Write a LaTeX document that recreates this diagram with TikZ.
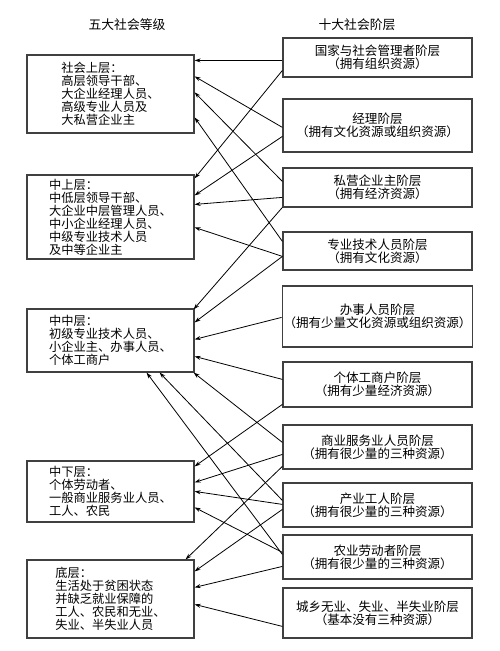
\documentclass[tikz,border=0pt]{standalone}
\usepackage{fontspec}
\setmainfont{Noto Sans CJK SC}
\usetikzlibrary{calc,arrows.meta}

\begin{document}
\begin{tikzpicture}[x=0.75pt,y=0.75pt,yscale=-1,xscale=1,
        lbox/.style={draw=black!75, line width=0.9pt, minimum width=125.25pt, inner sep=1pt, align=left, font=\fontsize{9.2}{9.8}\selectfont},
        rbox/.style={draw=black!75, line width=0.9pt, minimum width=141.75pt, inner sep=1pt, align=center, font=\fontsize{9.4}{9.6}\selectfont},
        arr/.style={line width=0.6pt, -{Stealth[length=4.5pt,width=3pt]}}]
        \useasboundingbox (0,0) rectangle (500,651);

        \node [font=\fontsize{9.6}{10}\selectfont] (t1) at (127,25) {五大社会等级};
        \node [font=\fontsize{9.6}{10}\selectfont] (t2) at (357,25) {十大社会阶层};

        \node [lbox, minimum height=58.5pt] (L1) at (110.5,94) {社会上层：\\高层领导干部、\\大企业经理人员、\\高级专业人员及\\大私营企业主};
        \node [lbox, minimum height=63pt] (L2) at (110.5,217) {中上层：\\中低层领导干部、\\大企业中层管理人员、\\中小企业经理人员、\\中级专业技术人员\\及中等企业主};
        \node [lbox, minimum height=47.25pt] (L3) at (110.5,340.5) {中中层：\\初级专业技术人员、\\小企业主、办事人员、\\个体工商户};
        \node [lbox, minimum height=45.75pt] (L4) at (110.5,491.5) {中下层：\\个体劳动者、\\一般商业服务业人员、\\工人、农民};
        \node [lbox, minimum height=58.5pt] (L5) at (110.5,599) {底层：\\生活处于贫困状态\\并缺乏就业保障的\\工人、农民和无业、\\失业、半失业人员};

        \node [rbox, minimum height=29.25pt] (R1) at (377.5,57.5) {国家与社会管理者阶层\\（拥有组织资源）};
        \node [rbox, minimum height=39.75pt] (R2) at (377.5,125.5) {经理阶层\\（拥有文化资源或组织资源）};
        \node [rbox, minimum height=29.25pt] (R3) at (377.5,187.5) {私营企业主阶层\\（拥有经济资源）};
        \node [rbox, minimum height=28.5pt] (R4) at (377.5,251) {专业技术人员阶层\\（拥有文化资源）};
        \node [rbox, minimum height=45.75pt] (R5) at (377.5,316.5) {办事人员阶层\\（拥有少量文化资源或组织资源）};
        \node [rbox, minimum height=33.75pt] (R6) at (377.5,384.5) {个体工商户阶层\\（拥有少量经济资源）};
        \node [rbox, minimum height=33pt] (R7) at (377.5,447) {商业服务业人员阶层\\（拥有很少量的三种资源）};
        \node [rbox, minimum height=33pt] (R8) at (377.5,505) {产业工人阶层\\（拥有很少量的三种资源）};
        \node [rbox, minimum height=33pt] (R9) at (377.5,557) {农业劳动者阶层\\（拥有很少量的三种资源）};
        \node [rbox, minimum height=37.5pt] (R10) at (377.5,613) {城乡无业、失业、半失业阶层\\（基本没有三种资源）};

        \draw [arr] ($(R1.north west)+(0,23)$) -- ($(L1.north east)+(0,6)$);
        \draw [arr] ($(R1.north west)+(0,33)$) -- ($(L2.north east)+(0,4)$);
        \draw [arr] ($(R2.north west)+(0,29)$) -- ($(L1.north east)+(0,22)$);
        \draw [arr] ($(R2.north west)+(0,38)$) -- ($(L2.north east)+(0,21)$);
        \draw [arr] ($(R3.north west)+(0,14)$) -- ($(L1.north east)+(0,38)$);
        \draw [arr] ($(R3.north west)+(0,30)$) -- ($(L2.north east)+(0,30)$);
        \draw [arr] ($(R3.north west)+(0,40)$) -- ($(L3.north east)+(-1,1)$);
        \draw [arr] ($(R4.north west)+(0,10)$) -- ($(L1.north east)+(0,63)$);
        \draw [arr] ($(R4.north west)+(0,25)$) -- ($(L2.north east)+(0,53)$);
        \draw [arr] ($(R4.north west)+(0,25)$) -- ($(L3.north east)+(0,14)$);
        \draw [arr] ($(R5.north west)+(0,32)$) -- ($(L3.north east)+(0,31)$);
        \draw [arr] ($(R6.north west)+(0,18)$) -- ($(L3.north east)+(0,48)$);
        \draw [arr] ($(R6.north west)+(0,43)$) -- ($(L4.north east)+(0,6)$);
        \draw [arr] ($(R7.north west)+(0,18)$) -- ($(L3.south east)+(-1,0)$);
        \draw [arr] ($(R7.north west)+(0,30)$) -- ($(L4.north east)+(0,22)$);
        \draw [arr] ($(R7.north west)+(0,42)$) -- ($(L5.north east)+(-9,0)$);
        \draw [arr] ($(R8.north west)+(0,18)$) -- ($(L3.south east)+(-35,0)$);
        \draw [arr] ($(R8.north west)+(0,22)$) -- ($(L4.north east)+(0,31)$);
        \draw [arr] ($(R8.north west)+(0,27)$) -- ($(L5.north east)+(0,12)$);
        \draw [arr] ($(R9.north west)+(0,20)$) -- ($(L3.south east)+(-48,0)$);
        \draw [arr] ($(R9.north west)+(0,18)$) -- ($(L4.north east)+(0,47)$);
        \draw [arr] ($(R9.north west)+(0,32)$) -- ($(L5.north east)+(0,28)$);
        \draw [arr] ($(R10.north west)+(0,39)$) -- ($(L5.north east)+(0,45)$);
\end{tikzpicture}
\end{document}
